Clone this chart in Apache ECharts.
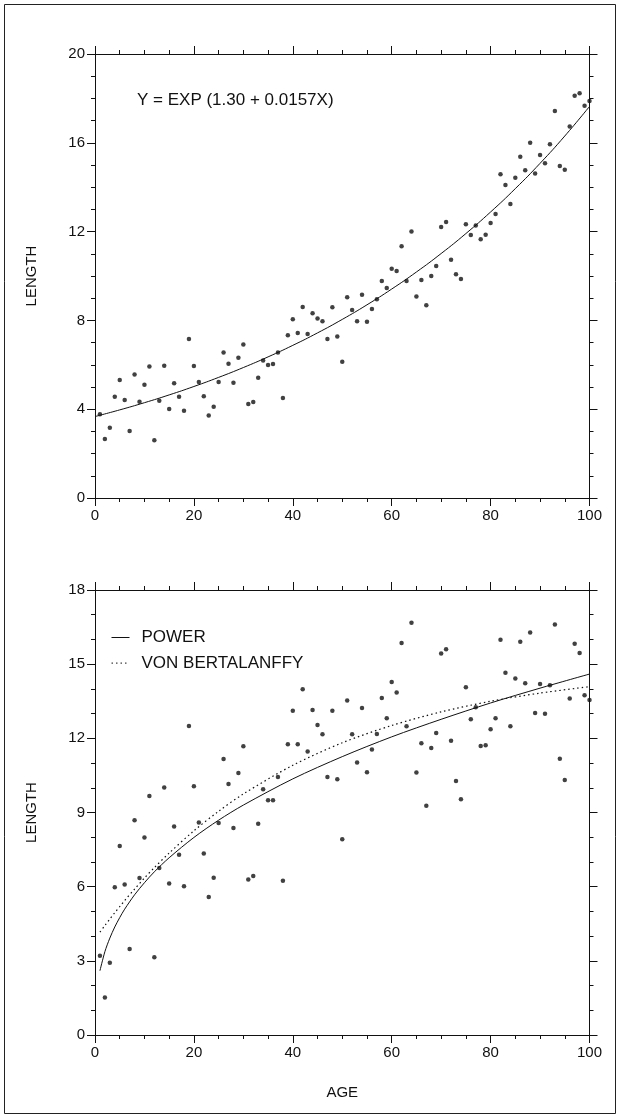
<!DOCTYPE html>
<html>
<head>
<meta charset="utf-8">
<script src="https://cdn.jsdelivr.net/npm/echarts@6/dist/echarts.min.js"></script>
<style>
  html, body { margin: 0; padding: 0; background: #fff; }
  #chart { width: 620px; height: 1118px; }
</style>
</head>
<body>
<div id="chart"></div>
<script>
// Age of each fish (same sampling in both panels)
const ages = [
  1, 2, 3, 4, 5, 6, 7, 8, 9, 10, 11, 12, 13, 14, 15, 16, 17, 18, 19, 20,
  21, 22, 23, 24, 25, 26, 27, 28, 29, 30, 31, 32, 33, 34, 35, 36, 37, 38, 39, 40,
  41, 42, 43, 44, 45, 46, 47, 48, 49, 50, 51, 52, 53, 54, 55, 56, 57, 58, 59, 60,
  61, 62, 63, 64, 65, 66, 67, 68, 69, 70, 71, 72, 73, 74, 75, 76, 77, 78, 79, 80,
  81, 82, 83, 84, 85, 86, 87, 88, 89, 90, 91, 92, 93, 94, 95, 96, 97, 98, 99, 100
];

// Upper panel: lengths following exponential growth
const expLength = [
  3.77, 2.66, 3.17, 4.56, 5.32, 4.41, 3.02, 5.56, 4.34, 5.10,
  5.92, 2.60, 4.38, 5.96, 4.01, 5.17, 4.56, 3.93, 7.16, 5.95,
  5.23, 4.58, 3.72, 4.11, 5.23, 6.55, 6.05, 5.19, 6.32, 6.91,
  4.23, 4.32, 5.42, 6.19, 5.99, 6.04, 6.55, 4.50, 7.33, 8.05,
  7.43, 8.60, 7.39, 8.32, 8.08, 7.96, 7.16, 8.59, 7.27, 6.14,
  9.04, 8.47, 7.96, 9.16, 7.94, 8.51, 8.95, 9.77, 9.46, 10.33,
  10.23, 11.34, 9.77, 12.00, 9.08, 9.82, 8.68, 10.00, 10.45, 12.21,
  12.43, 10.73, 10.08, 9.86, 12.33, 11.85, 12.27, 11.65, 11.86, 12.39,
  12.79, 14.58, 14.10, 13.24, 14.43, 15.37, 14.76, 16.00, 14.62, 15.45,
  15.08, 15.93, 17.43, 14.95, 14.79, 16.73, 18.12, 18.23, 17.67, 17.88
];

// Lower panel: lengths following asymptotic growth
const growthLength = [
  3.21, 1.52, 2.92, 5.98, 7.65, 6.09, 3.48, 8.69, 6.35, 7.99,
  9.67, 3.15, 6.76, 10.01, 6.13, 8.43, 7.29, 6.02, 12.50, 10.06,
  8.60, 7.34, 5.58, 6.36, 8.58, 11.16, 10.15, 8.37, 10.60, 11.68,
  6.29, 6.43, 8.54, 9.94, 9.50, 9.50, 10.44, 6.24, 11.76, 13.12,
  11.76, 13.99, 11.47, 13.15, 12.54, 12.17, 10.44, 13.12, 10.35, 7.92,
  13.53, 12.17, 11.02, 13.23, 10.63, 11.55, 12.18, 13.63, 12.81, 14.28,
  13.85, 15.86, 12.49, 16.68, 10.62, 11.80, 9.27, 11.61, 12.22, 15.43,
  15.60, 11.90, 10.27, 9.54, 14.07, 12.77, 13.26, 11.69, 11.72, 12.37,
  12.81, 15.99, 14.65, 12.49, 14.42, 15.91, 14.23, 16.28, 13.02, 14.20,
  12.99, 14.15, 16.60, 11.17, 10.31, 13.61, 15.83, 15.45, 13.74, 13.55
];

// Exponential fit, Y = EXP(a + bX)
const expIntercept = 1.30;
const expSlope = 0.0157;
const expCurveAges = [0, 5, 10, 15, 20, 25, 30, 35, 40, 45, 50, 55, 60, 65, 70, 75, 80, 85, 90, 95, 100];

// Fitted growth curves of the lower panel
const curveAges = [1, 2, 3, 4, 5, 6, 8, 10, 12, 15, 20, 25, 30, 40, 50, 60, 70, 80, 90, 100];
const powerFit  = [2.60, 3.37, 3.92, 4.37, 4.75, 5.09, 5.67, 6.16, 6.60, 7.17, 7.99, 8.69, 9.30, 10.36, 11.26, 12.06, 12.77, 13.43, 14.03, 14.60];
const vonBertFit = [4.16, 4.43, 4.69, 4.95, 5.19, 5.44, 5.90, 6.35, 6.77, 7.36, 8.26, 9.05, 9.75, 10.91, 11.82, 12.52, 13.07, 13.50, 13.83, 14.09];

const equationText = 'Y = EXP (1.30 + 0.0157X)';
const legendNames = ['POWER', 'VON BERTALANFFY'];

const FONT = '"Liberation Sans", Arial, Helvetica, sans-serif';
const INK = '#111';
const line = { color: INK, width: 1 };

function pairs(xs, ys) { return xs.map((x, i) => [x, ys[i]]); }

function xAxisPair(grid, name) {
  const base = {
    gridIndex: grid, type: 'value', min: 0, max: 100, interval: 20,
    axisLine: { show: true, onZero: false, lineStyle: line },
    axisTick: { show: true, inside: false, length: 8, lineStyle: line },
    minorTick: { show: true, splitNumber: 4, length: 4, lineStyle: line },
    splitLine: { show: false }, minorSplitLine: { show: false }
  };
  return [
    Object.assign({}, base, {
      position: 'bottom',
      axisLabel: { show: true, color: INK, fontSize: 15, fontFamily: FONT, margin: 10 },
      name: name || '', nameLocation: 'middle', nameGap: 50,
      nameTextStyle: { color: INK, fontSize: 15, fontFamily: FONT }
    }),
    Object.assign({}, base, { position: 'top', axisLabel: { show: false } })
  ];
}

function yAxisPair(grid, max, step, minorSplit) {
  const base = {
    gridIndex: grid, type: 'value', min: 0, max: max, interval: step,
    axisLine: { show: true, onZero: false, lineStyle: line },
    axisTick: { show: true, inside: false, length: 8, lineStyle: line },
    minorTick: { show: true, splitNumber: minorSplit, length: 4, lineStyle: line },
    splitLine: { show: false }, minorSplitLine: { show: false }
  };
  return [
    Object.assign({}, base, {
      position: 'left',
      axisLabel: { show: true, color: INK, fontSize: 15, fontFamily: FONT, margin: 10 },
      name: 'LENGTH', nameLocation: 'middle', nameGap: 56, nameRotate: 90,
      nameTextStyle: { color: INK, fontSize: 15, fontFamily: FONT }
    }),
    Object.assign({}, base, { position: 'right', axisLabel: { show: false } })
  ];
}

const chart = echarts.init(document.getElementById('chart'), null, { renderer: 'canvas' });

chart.setOption({
  backgroundColor: '#fff',
  animation: false,
  textStyle: { fontFamily: FONT, color: INK },
  grid: [
    { left: 95, top: 54, width: 494.5, height: 444 },
    { left: 95, top: 590, width: 494.5, height: 445 }
  ],
  xAxis: [...xAxisPair(0), ...xAxisPair(1, 'AGE')],
  yAxis: [...yAxisPair(0, 20, 4, 4), ...yAxisPair(1, 18, 3, 3)],
  legend: {
    data: legendNames,
    orient: 'vertical',
    left: 111, top: 629, padding: 0,
    itemWidth: 18, itemHeight: 14, itemGap: 8.6,
    itemStyle: { opacity: 0 },
    lineStyle: { width: 1 },
    textStyle: { color: INK, fontSize: 17, fontFamily: FONT, padding: [0, 0, 0, 7] },
    selectedMode: false
  },
  graphic: [
    {
      type: 'rect', silent: true,
      shape: { x: 4.5, y: 4.5, width: 611, height: 1109 },
      style: { fill: null, stroke: '#222', lineWidth: 1 }
    },
    {
      type: 'text', silent: true, left: 137, top: 92,
      style: { text: equationText, fill: INK, font: '17px ' + FONT }
    }
  ],
  series: [
    {
      type: 'scatter', xAxisIndex: 0, yAxisIndex: 0,
      data: pairs(ages, expLength),
      symbol: 'circle', symbolSize: 4.5,
      itemStyle: { color: INK }
    },
    {
      type: 'line', xAxisIndex: 0, yAxisIndex: 0,
      data: expCurveAges.map(x => [x, Math.exp(expIntercept + expSlope * x)]),
      smooth: true, symbol: 'none',
      lineStyle: { color: INK, width: 1 }
    },
    {
      type: 'scatter', xAxisIndex: 2, yAxisIndex: 2,
      data: pairs(ages, growthLength),
      symbol: 'circle', symbolSize: 4.5,
      itemStyle: { color: INK }
    },
    {
      name: 'POWER', type: 'line', xAxisIndex: 2, yAxisIndex: 2,
      data: pairs(curveAges, powerFit),
      smooth: 0.3, symbol: 'none',
      itemStyle: { color: INK },
      lineStyle: { color: INK, width: 1 }
    },
    {
      name: 'VON BERTALANFFY', type: 'line', xAxisIndex: 2, yAxisIndex: 2,
      data: pairs(curveAges, vonBertFit),
      smooth: 0.3, symbol: 'none',
      itemStyle: { color: INK },
      lineStyle: { color: INK, width: 1.2, type: [1.5, 3] }
    }
  ]
});
</script>
</body>
</html>
